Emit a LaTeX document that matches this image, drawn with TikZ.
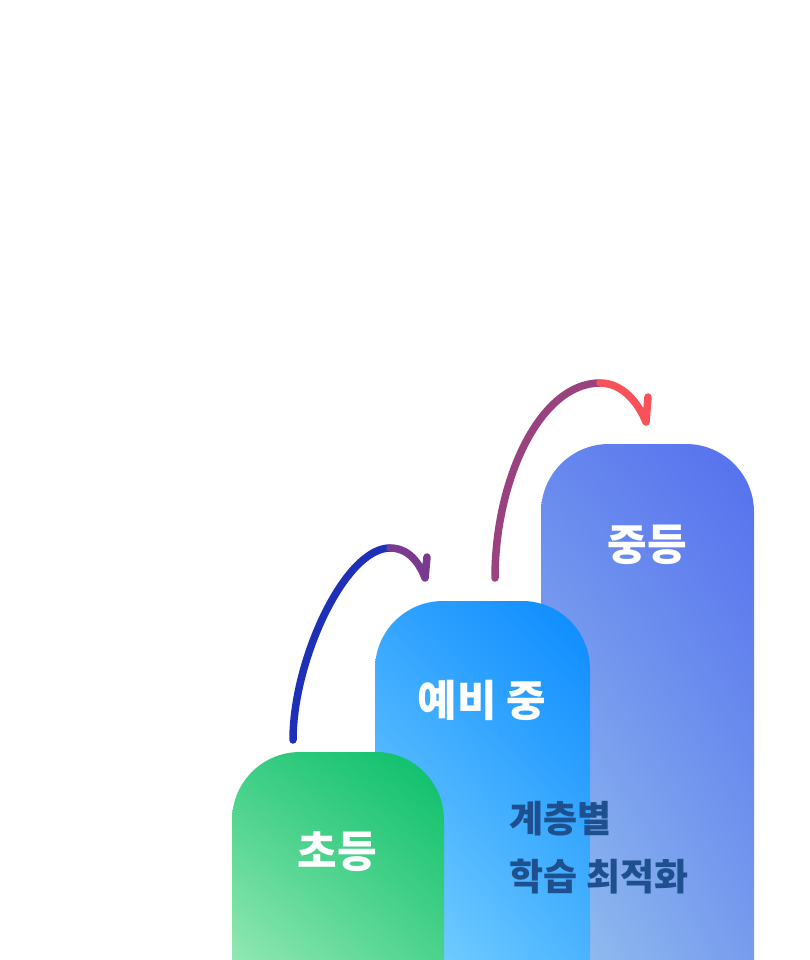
\documentclass[tikz,border=0pt]{standalone}
\usepackage{fontspec}
\newfontfamily\krfont{Noto Sans CJK KR}
\usepackage{tikz}
\usetikzlibrary{shadings}
\definecolor{grnA}{HTML}{08BE68}
\definecolor{grnB}{HTML}{B2F2C4}
\definecolor{bluA}{HTML}{0A8AFF}
\definecolor{bluB}{HTML}{90E0FF}
\definecolor{indA}{HTML}{5570EE}
\definecolor{indB}{HTML}{9CCCEE}
\definecolor{txtblue}{HTML}{1E4F8E}
\definecolor{hopA}{HTML}{1E2FB8}
\definecolor{hopB}{HTML}{7A3A90}
\definecolor{hopC}{HTML}{9A4280}
\definecolor{hopD}{HTML}{F7525A}
\tikzset{
  barlabel/.style={text=white,font=\krfont\bfseries\fontsize{43}{48}\selectfont},
  hop/.style={line width=7.5pt,line cap=round,line join=round}
}
\begin{document}
\begin{tikzpicture}[x=1pt,y=-1pt]
\useasboundingbox (0,0) rectangle (810,960);
\fill[white] (0,0) rectangle (810,960);
% bars, back to front
\shade[lower left=indB,upper right=indA,upper left=indA!75!indB,lower right=indA!45!indB,rounded corners=68pt] (541,1040) rectangle (754,444);
\shade[lower left=bluB,upper right=bluA,upper left=bluA!70!bluB,lower right=bluA!40!bluB,rounded corners=68pt] (375,1040) rectangle (590,601);
\shade[lower left=grnB,upper right=grnA,upper left=grnA!70!grnB,lower right=grnA!45!grnB,rounded corners=68pt] (232,1040) rectangle (444,752);
\node[barlabel] (cho) at (337,852) {초등};
\node[barlabel] (yebi) at (482,700) {예비 중};
\node[barlabel] (jung) at (647,545) {중등};
\node[text=txtblue,font=\krfont\bfseries\fontsize{37}{58}\selectfont,align=left,anchor=north west] (opt) at (506,798) {계층별\\학습 최적화};
% hops
\coordinate (a0) at (293,740);
\coordinate (a1) at (390,548);
\coordinate (a2) at (425,578);
\coordinate (a3) at (427,557);
\draw[hop,hopA] (a0) .. controls (293,660) and (345,548) .. (a1);
\draw[hop,hopB] (a1) .. controls (408,548) and (419,562) .. (a2) -- (a3);
\coordinate (b0) at (495,578);
\coordinate (b1) at (600,383);
\coordinate (b2) at (646,422);
\coordinate (b3) at (648,397);
\draw[hop,hopC] (b0) .. controls (495,480) and (540,383) .. (b1);
\draw[hop,hopD] (b1) .. controls (622,383) and (638,402) .. (b2) -- (b3);
\end{tikzpicture}
\end{document}
